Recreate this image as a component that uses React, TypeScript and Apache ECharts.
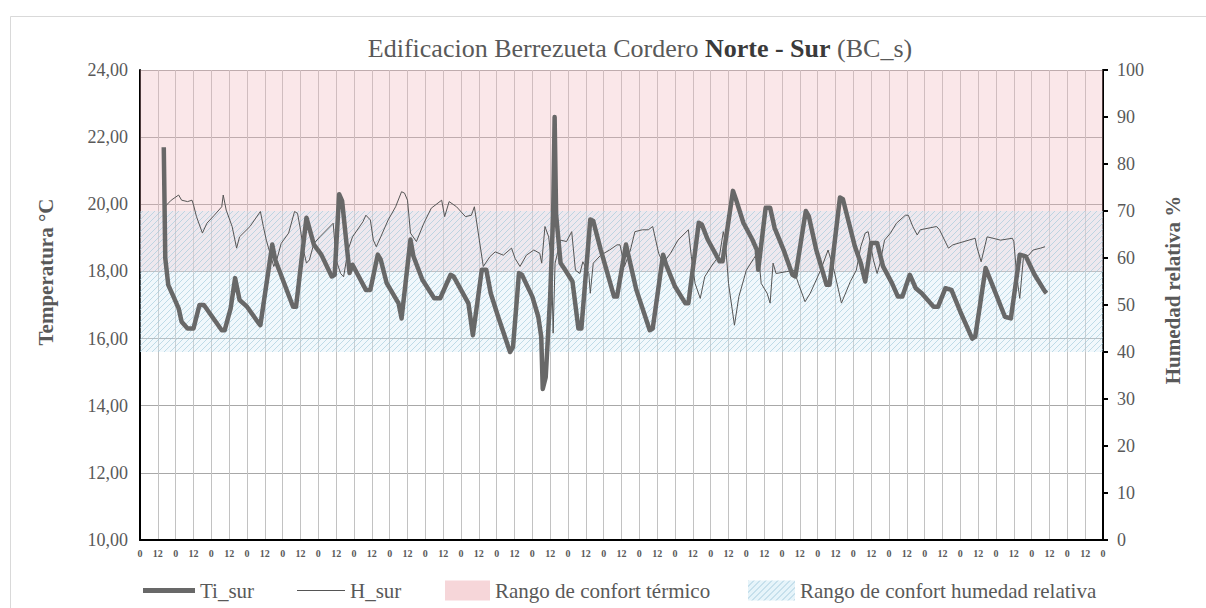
import React, { useEffect, useRef } from "react";
import * as echarts from "echarts";

// Hours since start (0..648) and values
const tiHours = [16, 17, 19, 22, 26, 28, 32, 36, 40, 43, 55, 57, 61, 64, 67, 72, 80, 81, 89, 91, 103, 105, 112, 117, 122, 129, 131, 134, 136, 141, 143, 152, 155, 160, 162, 166, 174, 176, 182, 184, 190, 198, 202, 209, 211, 221, 224, 230, 233, 236, 241, 249, 251, 255, 257, 264, 268, 270, 271, 273, 276, 278, 279, 280, 283, 286, 291, 295, 297, 303, 305, 310, 319, 321, 327, 334, 343, 345, 352, 354, 360, 367, 369, 376, 378, 382, 390, 392, 399, 401, 406, 412, 415, 416, 421, 424, 427, 433, 439, 441, 448, 450, 455, 462, 464, 471, 473, 481, 485, 488, 492, 496, 500, 506, 510, 513, 518, 522, 526, 534, 537, 542, 546, 552, 560, 562, 569, 574, 582, 586, 589, 592, 596, 602, 609, 610];
const tiValues = [21.7, 18.4, 17.6, 17.3, 16.9, 16.5, 16.3, 16.3, 17.0, 17.0, 16.25, 16.25, 16.9, 17.8, 17.15, 16.95, 16.45, 16.4, 18.8, 18.35, 16.95, 16.95, 19.6, 18.8, 18.5, 17.85, 17.9, 20.3, 20.1, 17.95, 18.2, 17.45, 17.45, 18.5, 18.35, 17.65, 17.05, 16.6, 18.95, 18.45, 17.75, 17.2, 17.2, 17.9, 17.85, 17.05, 16.1, 18.05, 18.05, 17.35, 16.65, 15.6, 15.75, 17.95, 17.9, 17.25, 16.65, 16.05, 14.5, 14.85, 17.25, 19.7, 22.6, 19.7, 18.25, 18.05, 17.7, 16.3, 16.3, 19.55, 19.5, 18.65, 17.25, 17.25, 18.8, 17.45, 16.25, 16.3, 18.5, 18.2, 17.55, 17.05, 17.05, 19.45, 19.4, 18.95, 18.3, 18.3, 20.4, 20.15, 19.45, 18.95, 18.65, 18.05, 19.9, 19.9, 19.3, 18.65, 17.9, 17.85, 19.8, 19.65, 18.65, 17.6, 17.6, 20.2, 20.15, 18.75, 18.25, 17.7, 18.85, 18.85, 18.15, 17.65, 17.25, 17.25, 17.9, 17.5, 17.35, 16.95, 16.95, 17.5, 17.45, 16.8, 16.0, 16.05, 18.1, 17.55, 16.65, 16.6, 17.55, 18.5, 18.45, 17.9, 17.4, 17.35];

const hHours = [17, 21, 26, 28, 32, 35, 36, 38, 42, 45, 50, 55, 56, 58, 62, 65, 67, 74, 81, 83, 85, 90, 92, 95, 100, 104, 106, 108, 110, 112, 114, 117, 121, 130, 132, 135, 137, 140, 143, 150, 152, 155, 157, 159, 162, 167, 172, 176, 178, 180, 182, 186, 191, 196, 203, 205, 208, 213, 219, 223, 225, 228, 231, 235.5, 239, 244.5, 250, 252.4, 255.7, 260, 265, 269, 270.3, 272.5, 275, 277, 278, 279.3, 283, 287, 290.5, 293, 296, 298, 302, 303, 305, 310, 316, 321, 323, 326, 330, 333, 338, 342, 345, 349, 352, 357, 362, 369, 371, 373.5, 377, 380, 385, 390, 392.5, 394, 396, 400, 403, 408, 413, 416, 418, 422, 424, 426, 428, 435, 440, 443, 447.5, 451, 458, 463, 467, 472, 478, 482, 485, 488, 490, 493.5, 496, 498, 501, 505, 509, 515, 517, 520, 523, 525, 536, 538, 544, 547, 562, 563, 566, 570, 574, 579, 587, 588, 590, 592, 594.5, 598, 601, 606, 609];
const hValues = [71.0, 72.3, 73.4, 72.3, 72.0, 72.3, 71.3, 68.8, 65.3, 67.4, 69.1, 70.9, 73.4, 70.2, 66.7, 62.1, 64.5, 66.7, 69.9, 66.7, 63.8, 58.2, 59.6, 63.1, 65.3, 69.9, 69.5, 66.0, 61.7, 58.9, 59.6, 63.1, 64.5, 67.4, 59.6, 56.7, 56.0, 61.7, 64.5, 67.7, 69.1, 68.1, 63.8, 62.4, 64.5, 68.1, 70.9, 74.1, 73.8, 72.3, 65.3, 63.5, 67.4, 70.6, 72.3, 68.8, 72.0, 70.9, 68.8, 69.1, 70.9, 64.5, 58.2, 60.3, 61.3, 60.6, 62.1, 59.9, 58.2, 60.6, 61.7, 61.0, 58.9, 66.7, 64.5, 58.9, 44.0, 58.9, 63.8, 63.5, 65.6, 57.4, 56.7, 59.2, 56.7, 52.5, 58.9, 60.6, 61.7, 62.8, 62.8, 58.2, 61.7, 65.6, 66.0, 66.0, 66.7, 61.0, 58.9, 61.0, 63.8, 66.0, 60.3, 54.6, 51.4, 56.0, 58.5, 60.6, 65.6, 63.1, 54.6, 45.7, 51.8, 57.4, 59.9, 61.3, 54.6, 52.5, 50.4, 58.9, 56.7, 57.1, 57.4, 54.6, 50.7, 52.5, 57.4, 61.7, 57.4, 50.4, 55.0, 57.4, 62.4, 65.3, 65.6, 59.6, 56.7, 58.9, 63.8, 65.3, 67.4, 69.1, 69.1, 66.7, 64.9, 66.0, 66.7, 66.0, 62.1, 62.8, 64.2, 62.5, 59.2, 64.5, 64.2, 63.8, 64.2, 63.5, 56.0, 51.4, 60.3, 60.6, 61.7, 62.1, 62.4];

const thermalRange = [18, 24];
const humidityRange = [40, 70];

const SERIF = "'Liberation Serif', 'DejaVu Serif', serif";
const GREY = "#595959";

function makeHatch(light: boolean) {
  const c = document.createElement("canvas");
  c.width = 6;
  c.height = 6;
  const ctx = c.getContext("2d")!;
  ctx.fillStyle = light ? "rgba(214,236,246,0.35)" : "rgba(214,236,246,0.6)";
  ctx.fillRect(0, 0, 6, 6);
  ctx.strokeStyle = light ? "rgba(150,195,215,0.55)" : "rgba(150,195,215,0.8)";
  ctx.lineWidth = 1;
  ctx.beginPath();
  ctx.moveTo(0, 6);
  ctx.lineTo(6, 0);
  ctx.moveTo(-1, 1);
  ctx.lineTo(1, -1);
  ctx.moveTo(5, 7);
  ctx.lineTo(7, 5);
  ctx.stroke();
  return c;
}

export default function App() {
  const ref = useRef<HTMLDivElement>(null);
  useEffect(() => {
    if (!ref.current) return;
    const chart = echarts.init(ref.current, undefined, { renderer: "svg" });
    const pink = "rgba(238,180,186,0.32)";
    const hatch = { image: makeHatch(true), repeat: "repeat" };
    const hatchLegend = { image: makeHatch(false), repeat: "repeat" };
    const tiData = tiHours.map((h, i) => [h, tiValues[i]]);
    const hData = hHours.map((h, i) => [h, hValues[i]]);
    const legendText = { fontFamily: SERIF, fontSize: 21, color: GREY };
    const legendBase = { top: 580, padding: 0, selectedMode: false, textStyle: legendText };
    const axisNameStyle = { fontFamily: SERIF, fontSize: 21, fontWeight: "bold", fill: GREY, align: "center", verticalAlign: "middle" };

    chart.setOption({
      animation: false,
      backgroundColor: "#fff",
      title: {
        text: "{n|Edificacion Berrezueta Cordero }{b|Norte - Sur}{n| (BC_s)}",
        left: 635,
        top: 30,
        textAlign: "center",
        textStyle: {
          fontWeight: "normal",
          rich: {
            n: { fontFamily: SERIF, fontSize: 26, fontWeight: "normal", color: GREY },
            b: { fontFamily: SERIF, fontSize: 26, fontWeight: "bold", color: "#3a3a3a" },
          },
        },
      },
      graphic: [
        {
          type: "rect",
          left: 8,
          top: 14,
          shape: { width: 1210, height: 620 },
          style: { fill: "none", stroke: "#d9d9d9", lineWidth: 1 },
          silent: true,
        },
        {
          type: "text",
          x: 46,
          y: 272,
          rotation: Math.PI / 2,
          style: { text: "Temperatura °C", ...axisNameStyle },
          silent: true,
        },
        {
          type: "text",
          x: 1173,
          y: 290,
          rotation: Math.PI / 2,
          style: { text: "Humedad relativa %", ...axisNameStyle },
          silent: true,
        },
      ],
      grid: { left: 140, right: 103, top: 70, bottom: 68 },
      legend: [
        {
          ...legendBase,
          data: [{ name: "Ti_sur", icon: "rect", itemStyle: { color: "#686868" } }],
          left: 143, itemWidth: 52, itemHeight: 5,
        },
        {
          ...legendBase,
          data: [{ name: "H_sur", icon: "rect", itemStyle: { color: "#555" } }],
          left: 297, itemWidth: 48, itemHeight: 1,
        },
        {
          ...legendBase,
          data: [{ name: "Rango de confort térmico", icon: "rect", itemStyle: { color: "rgba(238,180,186,0.55)" } }],
          left: 445, itemWidth: 45, itemHeight: 20,
        },
        {
          ...legendBase,
          data: [{ name: "Rango de confort humedad relativa", icon: "rect", itemStyle: { color: hatchLegend } }],
          left: 748, itemWidth: 47, itemHeight: 20,
        },
      ],
      xAxis: {
        type: "value",
        min: 0,
        max: 648,
        interval: 12,
        axisLine: { show: true, lineStyle: { color: "#000", width: 2 } },
        axisTick: { show: false },
        axisLabel: {
          formatter: (v: number) => String(v % 24),
          fontFamily: SERIF,
          fontSize: 10,
          fontWeight: "bold",
          color: GREY,
          margin: 8,
        },
        splitLine: { show: true, lineStyle: { color: "#c2c2c2", width: 1 } },
      },
      yAxis: [
        {
          type: "value",
          min: 10,
          max: 24,
          interval: 2,
          axisLine: { show: true, lineStyle: { color: "#000", width: 2 } },
          axisTick: { show: false },
          axisLabel: {
            formatter: (v: number) => v.toFixed(2).replace(".", ","),
            fontFamily: SERIF,
            fontSize: 18,
            color: GREY,
            margin: 12,
          },
          splitLine: { show: true, lineStyle: { color: "#a8a8a8", width: 1 } },
        },
        {
          type: "value",
          min: 0,
          max: 100,
          interval: 10,
          position: "right",
          axisLine: { show: true, lineStyle: { color: "#000", width: 2 } },
          axisTick: { show: true, inside: false, length: 5, lineStyle: { color: "#000", width: 2 } },
          axisLabel: { fontFamily: SERIF, fontSize: 18, color: GREY, margin: 14 },
          splitLine: { show: false },
        },
      ],
      series: [
        {
          name: "Rango de confort térmico",
          type: "line",
          yAxisIndex: 0,
          data: [],
          z: 1,
          symbol: "none",
          markArea: {
            silent: true,
            itemStyle: { color: pink },
            data: [[{ yAxis: thermalRange[0] }, { yAxis: thermalRange[1] }]],
          },
        },
        {
          name: "Rango de confort humedad relativa",
          type: "line",
          yAxisIndex: 1,
          data: [],
          z: 1,
          symbol: "none",
          markArea: {
            silent: true,
            itemStyle: { color: hatch },
            data: [[{ yAxis: humidityRange[0] }, { yAxis: humidityRange[1] }]],
          },
        },
        {
          name: "H_sur",
          type: "line",
          yAxisIndex: 1,
          data: hData,
          symbol: "none",
          z: 3,
          lineStyle: { color: "#555", width: 1 },
          itemStyle: { color: "#555" },
        },
        {
          name: "Ti_sur",
          type: "line",
          yAxisIndex: 0,
          data: tiData,
          symbol: "none",
          z: 4,
          lineStyle: { color: "#686868", width: 4.5, join: "round" },
          itemStyle: { color: "#686868" },
        },
      ],
    });
    return () => chart.dispose();
  }, []);
  return (
    <div
      ref={ref}
      style={{ position: "fixed", left: 0, top: 0, width: 1206, height: 608, background: "#fff" }}
    />
  );
}
